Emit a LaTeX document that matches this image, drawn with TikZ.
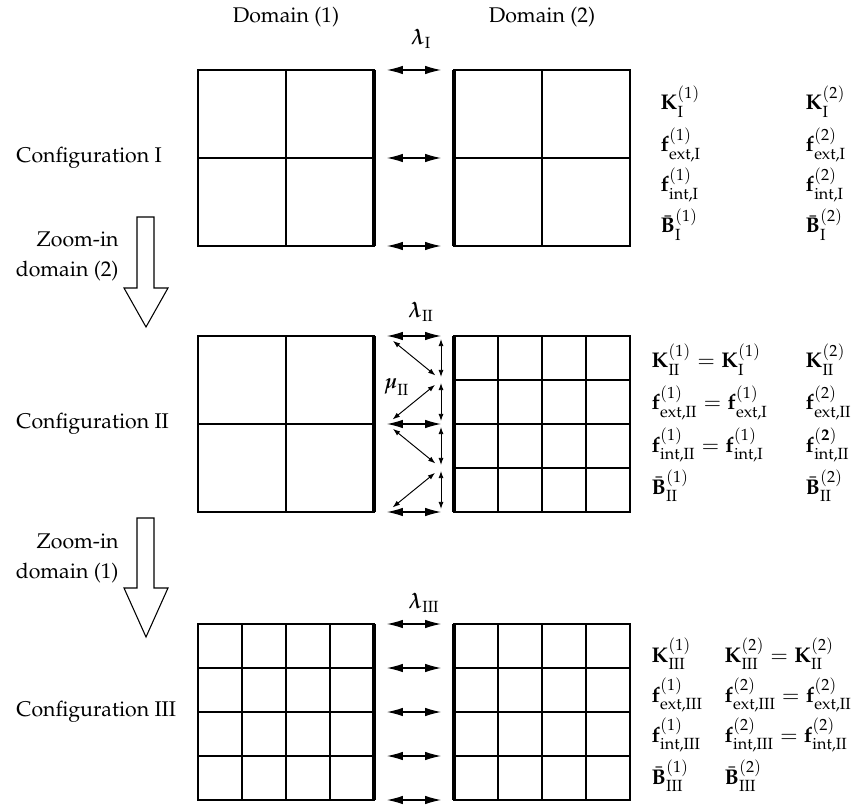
\documentclass[tikz,border=0pt]{standalone}
\usepackage[T1]{fontenc}
\usepackage{mathpazo}
\usepackage{amsmath}
\usetikzlibrary{arrows.meta}

\begin{document}
\begin{tikzpicture}[x={(0.47pt,0)}, y={(0,-0.47pt)},
  mesh/.style={line width=0.5pt},
  iface/.style={line width=1.9pt},
  bigarr/.style={{Latex[length=7.5pt,width=4pt]}-{Latex[length=7.5pt,width=4pt]}, line width=0.5pt},
  smallarr/.style={{Latex[length=3.4pt,width=2.4pt]}-{Latex[length=3.4pt,width=2.4pt]}, line width=0.45pt, shorten <=1.4pt, shorten >=1.4pt},
  diagarr/.style={{Latex[length=3.4pt,width=2.4pt]}-{Latex[length=3.4pt,width=2.4pt]}, line width=0.45pt, shorten <=3.6pt, shorten >=3.4pt},
  blockarr/.style={line width=0.5pt, line join=miter},
  lbl/.style={anchor=base west, inner sep=0pt},
  cfg/.style={anchor=west, inner sep=0pt},
  zoomtxt/.style={anchor=east, align=right, inner sep=0pt}]

\useasboundingbox (0,0) rectangle (853,807);

% column headings
\node (dom1) at (286,17) {Domain (1)};
\node (dom2) at (542,17) {Domain (2)};

% ---------------- Configuration I ----------------
\node[cfg] (cfgI) at (16,158) {Configuration I};
\draw[mesh] (198,70) rectangle (374,246) (286,70) -- (286,246) (198,158) -- (374,158);
\draw[mesh] (454,70) rectangle (630,246) (542,70) -- (542,246) (454,158) -- (630,158);
\draw[iface] (374,70) -- (374,246);
\draw[iface] (454,70) -- (454,246);
\node (lamI) at (421,39) {$\boldsymbol{\lambda}_{\mathrm{I}}$};
\foreach \yy [count=\i] in {70,158,246} {
  \coordinate (IL\i) at (387,\yy);
  \coordinate (IR\i) at (441,\yy);
  \draw[bigarr] (IL\i) -- (IR\i);
}
\node[lbl] (kI1) at (660,110) {$\mathbf{K}^{(1)}_{\mathrm{I}}$};
\node[lbl] (kI2) at (805,110) {$\mathbf{K}^{(2)}_{\mathrm{I}}$};
\node[lbl] (feI1) at (660,152) {$\mathbf{f}^{(1)}_{\text{ext,I}}$};
\node[lbl] (feI2) at (805,152) {$\mathbf{f}^{(2)}_{\text{ext,I}}$};
\node[lbl] (fiI1) at (660,192) {$\mathbf{f}^{(1)}_{\text{int,I}}$};
\node[lbl] (fiI2) at (805,192) {$\mathbf{f}^{(2)}_{\text{int,I}}$};
\node[lbl] (bI1) at (660,233) {$\bar{\mathbf{B}}^{(1)}_{\mathrm{I}}$};
\node[lbl] (bI2) at (805,233) {$\bar{\mathbf{B}}^{(2)}_{\mathrm{I}}$};

% zoom step 1
\draw[blockarr] (137,217) -- (137,288) -- (124,288) -- (146,327) -- (168,288) -- (154,288) -- (154,217) -- cycle;
\node[zoomtxt] (zoom1) at (119,256) {Zoom-in\\[2pt] domain (2)};

% ---------------- Configuration II ----------------
\node[cfg] (cfgII) at (16,424) {Configuration II};
\draw[mesh] (198,336) rectangle (374,512) (286,336) -- (286,512) (198,424) -- (374,424);
\draw[mesh] (454,336) rectangle (630,512);
\foreach \xx in {498,542,586} \draw[mesh] (\xx,336) -- (\xx,512);
\foreach \yy in {380,424,468} \draw[mesh] (454,\yy) -- (630,\yy);
\draw[iface] (374,336) -- (374,512);
\draw[iface] (454,336) -- (454,512);
\node (lamII) at (421,312) {$\boldsymbol{\lambda}_{\mathrm{II}}$};
\node (muII) at (397,387) {$\boldsymbol{\mu}_{\mathrm{II}}$};
\foreach \yy [count=\i] in {336,424,512} \coordinate (IIL\i) at (387,\yy);
\foreach \yy [count=\i] in {336,380,424,468,512} \coordinate (IIR\i) at (441,\yy);
\draw[bigarr] (IIL1) -- (IIR1);
\draw[bigarr] (IIL2) -- (IIR3);
\draw[bigarr] (IIL3) -- (IIR5);
\draw[smallarr] (IIR1) -- (IIR2);
\draw[smallarr] (IIR2) -- (IIR3);
\draw[smallarr] (IIR3) -- (IIR4);
\draw[smallarr] (IIR4) -- (IIR5);
\draw[diagarr] (IIL1) -- (IIR2);
\draw[diagarr] (IIR2) -- (IIL2);
\draw[diagarr] (IIL2) -- (IIR4);
\draw[diagarr] (IIR4) -- (IIL3);
\node[lbl] (kII1) at (651,368) {$\mathbf{K}^{(1)}_{\mathrm{II}}=\mathbf{K}^{(1)}_{\mathrm{I}}$};
\node[lbl] (kII2) at (805,368) {$\mathbf{K}^{(2)}_{\mathrm{II}}$};
\node[lbl] (feII1) at (651,410) {$\mathbf{f}^{(1)}_{\text{ext,II}}=\mathbf{f}^{(1)}_{\text{ext,I}}$};
\node[lbl] (feII2) at (805,410) {$\mathbf{f}^{(2)}_{\text{ext,II}}$};
\node[lbl] (fiII1) at (651,452) {$\mathbf{f}^{(1)}_{\text{int,II}}=\mathbf{f}^{(1)}_{\text{int,I}}$};
\node[lbl] (fiII2) at (805,452) {$\mathbf{f}^{(\mathbf{2})}_{\text{int,II}}$};
\node[lbl] (bII1) at (651,494) {$\bar{\mathbf{B}}^{(1)}_{\mathrm{II}}$};
\node[lbl] (bII2) at (805,494) {$\bar{\mathbf{B}}^{(2)}_{\mathrm{II}}$};

% zoom step 2
\draw[blockarr] (137,518) -- (137,588) -- (124,588) -- (146,637) -- (168,588) -- (154,588) -- (154,518) -- cycle;
\node[zoomtxt] (zoom2) at (119,558) {Zoom-in\\[2pt] domain (1)};

% ---------------- Configuration III ----------------
\node[cfg] (cfgIII) at (16,712) {Configuration III};
\draw[mesh] (198,624) rectangle (374,800);
\draw[mesh] (454,624) rectangle (630,800);
\foreach \xx in {242,286,330,498,542,586} \draw[mesh] (\xx,624) -- (\xx,800);
\foreach \yy in {668,712,756} \draw[mesh] (198,\yy) -- (374,\yy) (454,\yy) -- (630,\yy);
\draw[iface] (374,624) -- (374,800);
\draw[iface] (454,624) -- (454,800);
\node (lamIII) at (424,603) {$\boldsymbol{\lambda}_{\mathrm{III}}$};
\foreach \yy [count=\i] in {624,668,712,756,800} {
  \coordinate (IIIL\i) at (387,\yy);
  \coordinate (IIIR\i) at (441,\yy);
  \draw[bigarr] (IIIL\i) -- (IIIR\i);
}
\node[lbl] (kIII1) at (651,662) {$\mathbf{K}^{(1)}_{\mathrm{III}}$};
\node[lbl] (kIII2) at (724,662) {$\mathbf{K}^{(2)}_{\mathrm{III}}=\mathbf{K}^{(2)}_{\mathrm{II}}$};
\node[lbl] (feIII1) at (651,702) {$\mathbf{f}^{(1)}_{\text{ext,III}}$};
\node[lbl] (feIII2) at (724,702) {$\mathbf{f}^{(2)}_{\text{ext,III}}=\mathbf{f}^{(2)}_{\text{ext,II}}$};
\node[lbl] (fiIII1) at (651,742) {$\mathbf{f}^{(1)}_{\text{int,III}}$};
\node[lbl] (fiIII2) at (724,742) {$\mathbf{f}^{(2)}_{\text{int,III}}=\mathbf{f}^{(2)}_{\text{int,II}}$};
\node[lbl] (bIII1) at (651,784) {$\bar{\mathbf{B}}^{(1)}_{\mathrm{III}}$};
\node[lbl] (bIII2) at (724,784) {$\bar{\mathbf{B}}^{(2)}_{\mathrm{III}}$};
\end{tikzpicture}
\end{document}
